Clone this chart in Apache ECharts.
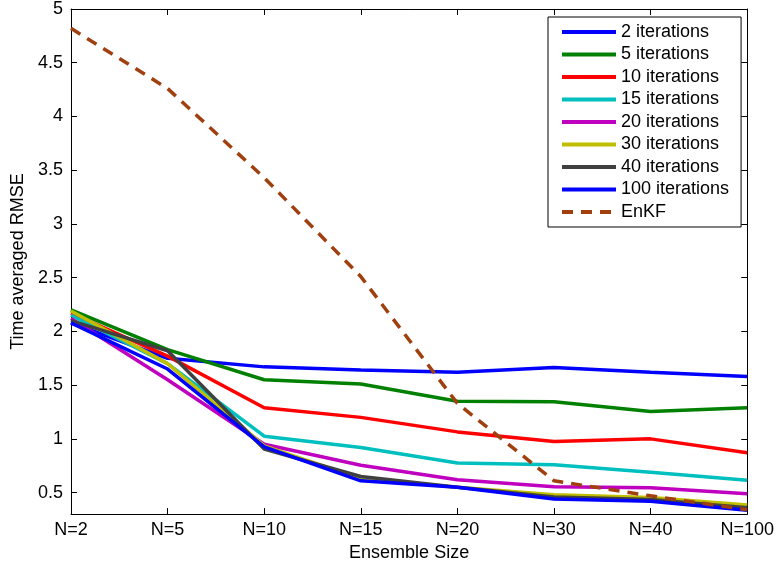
<!DOCTYPE html>
<html>
<head>
<meta charset="utf-8">
<script src="https://cdn.jsdelivr.net/npm/echarts@6/dist/echarts.min.js"></script>
<style>html,body{margin:0;padding:0;background:#fff;}#c{width:777px;height:567px;}</style>
</head>
<body>
<div id="c"></div>
<script>
var categories = ['N=2','N=5','N=10','N=15','N=20','N=30','N=40','N=100'];
var yTicks = [0.5,1,1.5,2,2.5,3,3.5,4,4.5,5];
var it2   = [2.08, 1.75, 1.67, 1.64, 1.62, 1.665, 1.62, 1.58];
var it5   = [2.20, 1.83, 1.55, 1.51, 1.35, 1.345, 1.255, 1.29];
var it10  = [2.17, 1.77, 1.29, 1.20, 1.065, 0.975, 1.00, 0.87];
var it15  = [2.15, 1.70, 1.025, 0.92, 0.775, 0.76, 0.69, 0.615];
var it20  = [2.12, 1.55, 0.95, 0.755, 0.62, 0.555, 0.545, 0.49];
var it30  = [2.19, 1.70, 0.935, 0.63, 0.55, 0.48, 0.455, 0.385];
var it40  = [2.10, 1.82, 0.905, 0.65, 0.55, 0.46, 0.435, 0.36];
var it100 = [2.08, 1.65, 0.925, 0.61, 0.55, 0.44, 0.42, 0.335];
var enkf  = [4.82, 4.26, 3.43, 2.51, 1.33, 0.61, 0.47, 0.34];

var names = ['2 iterations','5 iterations','10 iterations','15 iterations','20 iterations','30 iterations','40 iterations','100 iterations','EnKF'];
var datas = [it2, it5, it10, it15, it20, it30, it40, it100, enkf];
var colors = ['#0000ff','#008000','#ff0000','#00bfbf','#bf00bf','#bfbf00','#404040','#0000ff','#a0400f'];

var font = 'Liberation Sans, Arial, Helvetica, sans-serif';
var series = names.map(function(n, i){
  return {
    name: n, type: 'line', data: datas[i], symbol: 'none', showSymbol: false,
    xAxisIndex: 0, yAxisIndex: 0,
    lineStyle: { color: colors[i], width: 3.5, type: i === 8 ? [11, 8] : 'solid', cap: 'butt' },
    itemStyle: { color: colors[i] },
    emphasis: { disabled: true },
    z: 2 + i
  };
});

var chart = echarts.init(document.getElementById('c'), null, {renderer: 'canvas'});
chart.setOption({
  animation: false,
  backgroundColor: '#fff',
  textStyle: { fontFamily: font },
  grid: { left: 71, right: 28, top: 8, bottom: 51, containLabel: false },
  legend: {
    orient: 'vertical', left: 548, top: 17,
    data: names,
    itemWidth: 54, itemHeight: 18, itemGap: 4.5,
    padding: [6, 12, 6, 12],
    backgroundColor: '#fff', borderColor: '#000', borderWidth: 1,
    itemStyle: { opacity: 0 },
    lineStyle: { width: 4 },
    textStyle: { fontSize: 18, color: '#000', fontFamily: font, lineHeight: 18 },
    selectedMode: false
  },
  xAxis: [{
    type: 'category', data: categories, boundaryGap: false, position: 'bottom',
    name: 'Ensemble Size', nameLocation: 'middle', nameGap: 28,
    nameTextStyle: { fontSize: 18, color: '#000', fontFamily: font },
    axisLine: { show: true, lineStyle: { color: '#000', width: 1 } },
    axisTick: { show: true, inside: true, length: 6, alignWithLabel: true, lineStyle: { color: '#000' } },
    axisLabel: { fontSize: 18, color: '#000', margin: 7, fontFamily: font },
    splitLine: { show: false }
  }, {
    type: 'category', data: categories, boundaryGap: false, position: 'top',
    axisLine: { show: true, lineStyle: { color: '#000', width: 1 } },
    axisTick: { show: true, inside: true, length: 6, lineStyle: { color: '#000' } },
    axisLabel: { show: false },
    splitLine: { show: false }
  }],
  yAxis: [{
    type: 'value', min: 0.3, max: 5, position: 'left',
    name: 'Time averaged RMSE', nameLocation: 'middle', nameGap: 42,
    nameTextStyle: { fontSize: 18, color: '#000', fontFamily: font },
    axisLine: { show: true, lineStyle: { color: '#000', width: 1 } },
    axisTick: { show: true, inside: true, length: 6, customValues: yTicks, lineStyle: { color: '#000' } },
    axisLabel: { fontSize: 18, color: '#000', margin: 8, customValues: yTicks, fontFamily: font },
    splitLine: { show: false }
  }, {
    type: 'value', min: 0.3, max: 5, position: 'right',
    axisLine: { show: true, lineStyle: { color: '#000', width: 1 } },
    axisTick: { show: true, inside: true, length: 6, customValues: yTicks, lineStyle: { color: '#000' } },
    axisLabel: { show: false, customValues: yTicks },
    splitLine: { show: false }
  }],
  series: series
});
</script>
</body>
</html>
